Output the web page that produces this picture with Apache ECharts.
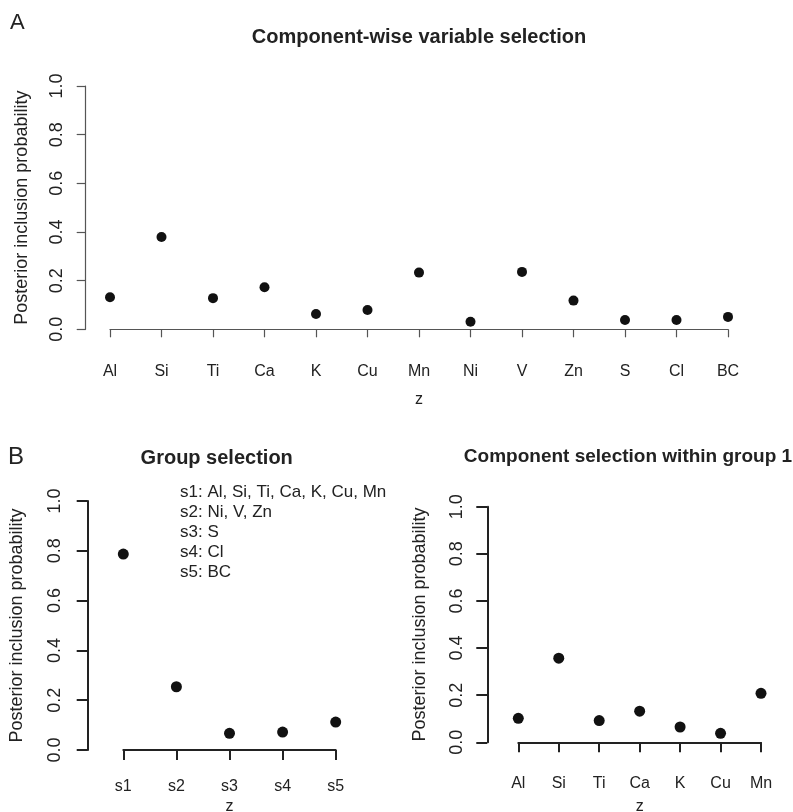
<!DOCTYPE html>
<html>
<head>
<meta charset="utf-8">
<script src="https://cdn.jsdelivr.net/npm/echarts@6/dist/echarts.min.js"></script>
<style>
html,body{margin:0;padding:0;background:#fff;}
#chart{width:793px;height:812px;}
</style>
</head>
<body>
<div id="chart"></div>
<script>
// ---- data ----
var compCategories = ['Al','Si','Ti','Ca','K','Cu','Mn','Ni','V','Zn','S','Cl','BC'];
var compValues = [0.132,0.379,0.128,0.173,0.063,0.079,0.233,0.031,0.236,0.118,0.038,0.038,0.051];

var groupCategories = ['s1','s2','s3','s4','s5'];
var groupValues = [0.787,0.254,0.067,0.072,0.112];
var groupLegend = ['s1: Al, Si, Ti, Ca, K, Cu, Mn','s2: Ni, V, Zn','s3: S','s4: Cl','s5: BC'];

var withinCategories = ['Al','Si','Ti','Ca','K','Cu','Mn'];
var withinValues = [0.102,0.357,0.092,0.132,0.065,0.038,0.208];

var FONT = '"Liberation Sans", Arial, Helvetica, sans-serif';
var chart = echarts.init(document.getElementById('chart'), null, {renderer:'canvas'});

function xAx(idx, cats, color, lw, tickLen, offset, margin, nameGap){
  return {
    type:'category', gridIndex:idx, data:cats, boundaryGap:false, position:'bottom',
    offset:offset,
    axisLine:{show:true, lineStyle:{color:color, width:lw}},
    axisTick:{show:true, length:tickLen, lineStyle:{color:color, width:lw}},
    axisLabel:{color:'#222', fontSize:16, fontFamily:FONT, margin:margin, interval:0, lineHeight:16},
    splitLine:{show:false},
    name:'z', nameLocation:'middle', nameGap:nameGap,
    nameTextStyle:{color:'#222', fontSize:16, fontFamily:FONT, lineHeight:16}
  };
}
function yAx(idx, color, lw, tickLen, offset, margin, nameGap){
  return {
    type:'value', gridIndex:idx, min:0, max:1, interval:0.2, position:'left',
    offset:offset,
    axisLine:{show:true, lineStyle:{color:color, width:lw}},
    axisTick:{show:true, length:tickLen, lineStyle:{color:color, width:lw}},
    axisLabel:{color:'#222', fontSize:18, fontFamily:FONT, margin:margin, rotate:90, lineHeight:18,
      formatter:function(v){ return v.toFixed(1); }},
    splitLine:{show:false},
    name:'Posterior inclusion probability', nameLocation:'middle', nameRotate:90, nameGap:nameGap,
    nameTextStyle:{color:'#222', fontSize:18, fontFamily:FONT, lineHeight:18}
  };
}

var option = {
  animation:false,
  backgroundColor:'#fff',
  grid:[
    {left:110, top:86, width:618, height:243.3, containLabel:false, outerBoundsMode:'none'},
    {left:123.3, top:501, width:212.4, height:249, containLabel:false, outerBoundsMode:'none'},
    {left:518.3, top:506.7, width:242.7, height:235.6, containLabel:false, outerBoundsMode:'none'}
  ],
  xAxis:[
    xAx(0, compCategories, '#555', 1.2, 8, 10.7, 24, 52),
    xAx(1, groupCategories, '#222', 2, 10, 10, 19, 39),
    xAx(2, withinCategories, '#222', 2, 10, 9.4, 24, 47)
  ],
  yAxis:[
    yAx(0, '#555', 1.2, 9, 24.3, 19.5, 55),
    yAx(1, '#222', 2, 11, 35.6, 24, 62),
    yAx(2, '#222', 2, 11, 31, 21.5, 58)
  ],
  series:[
    {type:'scatter', xAxisIndex:0, yAxisIndex:0, data:compValues, symbolSize:10, itemStyle:{color:'#111', opacity:1}},
    {type:'scatter', xAxisIndex:1, yAxisIndex:1, data:groupValues, symbolSize:11, itemStyle:{color:'#111', opacity:1}},
    {type:'scatter', xAxisIndex:2, yAxisIndex:2, data:withinValues, symbolSize:11, itemStyle:{color:'#111', opacity:1}}
  ],
  graphic:[
    {type:'text', left:10, top:12, style:{text:'A', font:'22px '+FONT, fill:'#222'}},
    {type:'text', x:419, y:37, style:{text:'Component-wise variable selection', font:'bold 20px '+FONT, fill:'#222', textAlign:'center', textVerticalAlign:'middle'}},
    {type:'text', left:8, top:445, style:{text:'B', font:'24px '+FONT, fill:'#222'}},
    {type:'text', x:216.7, y:458, style:{text:'Group selection', font:'bold 20px '+FONT, fill:'#222', textAlign:'center', textVerticalAlign:'middle'}},
    {type:'text', x:628, y:457, style:{text:'Component selection within group 1', font:'bold 19px '+FONT, fill:'#222', textAlign:'center', textVerticalAlign:'middle'}},
    {type:'text', x:180, y:482.7, style:{text:groupLegend.join('\n'), font:'17px '+FONT, lineHeight:20, fill:'#222', textAlign:'left', textVerticalAlign:'top'}}
  ]
};
chart.setOption(option);
</script>
</body>
</html>
